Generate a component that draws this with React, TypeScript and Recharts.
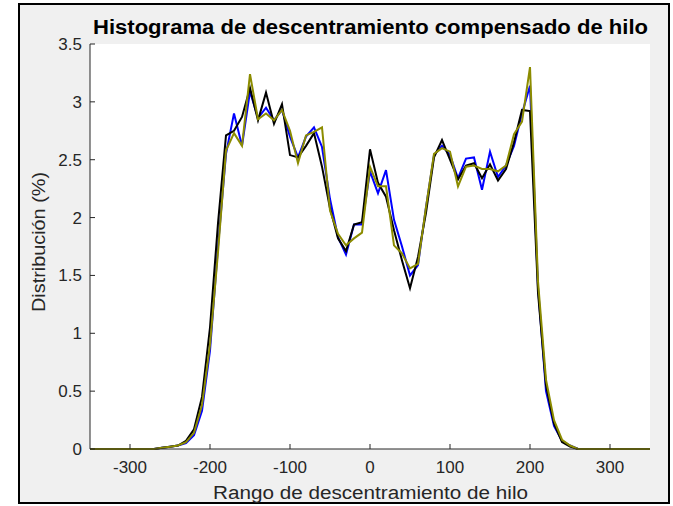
import React from "react";
import { LineChart, Line, XAxis, YAxis, CartesianGrid } from "recharts";

const rango = [
  -350, -340, -330, -320, -310, -300, -290, -280, -270, -260, -250, -240, -230, -220, -210, -200,
  -190, -180, -170, -160, -150, -140, -130, -120, -110, -100, -90, -80, -70, -60, -50, -40, -30,
  -20, -10, 0, 10, 20, 30, 40, 50, 60, 70, 80, 90, 100, 110, 120, 130, 140, 150, 160, 170, 180,
  190, 200, 210, 220, 230, 240, 250, 260, 270, 280, 290, 300, 310, 320, 330, 340, 350,
];

const serieAzul = [
  0, 0, 0, 0, 0, 0, 0, 0, 0, 0.01, 0.02, 0.03, 0.05, 0.12, 0.33, 0.85,
  1.75, 2.55, 2.9, 2.62, 3.09, 2.86, 2.95, 2.84, 2.93, 2.7, 2.52, 2.7, 2.78, 2.61, 2.16, 1.83, 1.68,
  1.94, 1.94, 2.4, 2.21, 2.41, 1.98, 1.75, 1.5, 1.59, 2.09, 2.54, 2.62, 2.54, 2.34, 2.51, 2.52, 2.24, 2.57, 2.35, 2.45, 2.62,
  2.9, 3.14, 1.4, 0.5, 0.2, 0.07, 0.03, 0, 0, 0, 0, 0, 0, 0, 0, 0, 0,
];

const serieNegra = [
  0, 0, 0, 0, 0, 0, 0, 0, 0, 0.01, 0.02, 0.03, 0.07, 0.17, 0.45, 1.05,
  1.95, 2.71, 2.75, 2.87, 3.12, 2.84, 3.08, 2.81, 2.98, 2.54, 2.52, 2.62, 2.73, 2.44, 2.08, 1.82, 1.71,
  1.94, 1.96, 2.59, 2.3, 2.18, 1.89, 1.63, 1.39, 1.66, 2.04, 2.52, 2.67, 2.5, 2.33, 2.45, 2.47, 2.34, 2.46, 2.32, 2.42, 2.65,
  2.93, 2.92, 1.35, 0.55, 0.22, 0.06, 0.02, 0, 0, 0, 0, 0, 0, 0, 0, 0, 0,
];

const serieOliva = [
  0, 0, 0, 0, 0, 0, 0, 0, 0, 0.01, 0.02, 0.03, 0.06, 0.14, 0.38, 0.9,
  1.7, 2.58, 2.73, 2.62, 3.24, 2.85, 2.9, 2.84, 2.93, 2.75, 2.47, 2.71, 2.74, 2.78, 2.06, 1.86, 1.76,
  1.82, 1.87, 2.44, 2.27, 2.27, 1.76, 1.69, 1.56, 1.6, 2.09, 2.55, 2.6, 2.57, 2.27, 2.44, 2.45, 2.42, 2.42, 2.4, 2.45, 2.72,
  2.83, 3.3, 1.45, 0.6, 0.25, 0.08, 0.03, 0, 0, 0, 0, 0, 0, 0, 0, 0, 0,
];

const ticksX = [-300, -200, -100, 0, 100, 200, 300];
const ticksY = [0, 0.5, 1, 1.5, 2, 2.5, 3, 3.5];

const titulo = "Histograma de descentramiento compensado de hilo";
const etiquetaX = "Rango de descentramiento de hilo";
const etiquetaY = "Distribución (%)";

const data = rango.map((x, i) => ({
  x,
  azul: serieAzul[i],
  negra: serieNegra[i],
  oliva: serieOliva[i],
}));

const W = 673;
const H = 506;
const FONT = "'Liberation Sans', Arial, Helvetica, sans-serif";
const AXIS = "#262626";
const tickStyle = { fontSize: 17, fill: AXIS, fontFamily: FONT };

export default function App() {
  return (
    <div style={{ position: "fixed", left: 0, top: 0, width: W, height: H, background: "#fff", overflow: "hidden" }}>
      <div
        style={{
          position: "absolute", left: 18, top: 3, width: 648, height: 497,
          border: "2px solid #000", background: "#f0f0f0",
        }}
      />
      <div style={{ position: "absolute", left: 0, top: 0 }}>
        <LineChart width={W} height={H} data={data} margin={{ top: 44, right: 23, left: 50, bottom: 27 }}>
          <CartesianGrid fill="#fff" horizontal={false} vertical={false} />
          <XAxis
            dataKey="x" type="number" domain={[-350, 350]} ticks={ticksX}
            height={30} tickSize={-5} tickMargin={17}
            axisLine={{ stroke: AXIS }} tickLine={{ stroke: AXIS }} tick={tickStyle}
          />
          <YAxis
            type="number" domain={[0, 3.5]} ticks={ticksY} width={40}
            tickSize={-5} tickMargin={13}
            axisLine={{ stroke: AXIS }} tickLine={{ stroke: AXIS }} tick={tickStyle}
          />
          <Line dataKey="azul" stroke="#0000ff" strokeWidth={2} dot={false} isAnimationActive={false} />
          <Line dataKey="negra" stroke="#000000" strokeWidth={2} dot={false} isAnimationActive={false} />
          <Line dataKey="oliva" stroke="#8c8c00" strokeWidth={2} dot={false} isAnimationActive={false} />
        </LineChart>
      </div>
      <svg width={W} height={H} style={{ position: "absolute", left: 0, top: 0, pointerEvents: "none" }}>
        <text x={93} y={34} textLength={555} lengthAdjust="spacingAndGlyphs"
          style={{ fontFamily: FONT, fontSize: 20, fontWeight: "bold", fill: "#000" }}>
          {titulo}
        </text>
        <text x={213} y={499} textLength={315} lengthAdjust="spacingAndGlyphs"
          style={{ fontFamily: FONT, fontSize: 18, fill: AXIS }}>
          {etiquetaX}
        </text>
        <text x={45} y={312} textLength={140} lengthAdjust="spacingAndGlyphs" transform="rotate(-90 45 312)"
          style={{ fontFamily: FONT, fontSize: 18, fill: AXIS }}>
          {etiquetaY}
        </text>
      </svg>
    </div>
  );
}
